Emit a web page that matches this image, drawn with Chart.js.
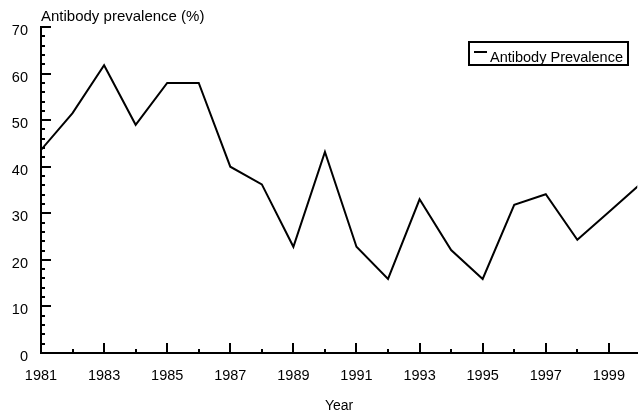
<!DOCTYPE html>
<html>
<head>
<meta charset="utf-8">
<script src="https://cdn.jsdelivr.net/npm/chart.js@4.4.0/dist/chart.umd.min.js"></script>
<style>
  html, body { margin: 0; padding: 0; background: #fff; overflow: hidden; }
  canvas { display: block; }
</style>
</head>
<body>
<canvas id="chart" width="639" height="415"></canvas>
<script>
// --- data ---
const years      = [1981, 1982, 1983, 1984, 1985, 1986, 1987, 1988, 1989, 1990,
                    1991, 1992, 1993, 1994, 1995, 1996, 1997, 1998, 1999, 2000];
const prevalence = [43.6, 51.5, 61.8, 49, 58, 58, 40, 36.2, 22.8, 43.2,
                    22.8, 15.9, 33, 22.1, 15.9, 31.8, 34.1, 24.3, 30.3, 36.3];
const xTickLabels = ['1981', '1983', '1985', '1987', '1989', '1991', '1993', '1995', '1997', '1999'];
const yTickValues = [0, 10, 20, 30, 40, 50, 60, 70];

const seriesName = 'Antibody Prevalence';
const yTitle     = 'Antibody prevalence (%)';
const xTitle     = 'Year';

const FONT = "'Liberation Sans', Arial, sans-serif";

// ticks drawn inward, title top-left, boxed legend top-right
const decorations = {
    id: 'decorations',
    afterDraw(chart) {
        const { ctx, chartArea: area } = chart;
        const xs = chart.scales.x, ys = chart.scales.y;
        ctx.save();
        ctx.strokeStyle = '#000';
        ctx.lineWidth = 2;

        // y ticks: minor every 2, major every 10
        for (let v = yTickValues[0]; v <= yTickValues[yTickValues.length - 1]; v += 2) {
            const py = Math.round(ys.getPixelForValue(v));
            const len = yTickValues.includes(v) ? 10 : 4;
            ctx.beginPath();
            ctx.moveTo(area.left, py);
            ctx.lineTo(area.left + len, py);
            ctx.stroke();
        }
        // x ticks: minor every year, major on labelled years
        years.forEach(yr => {
            if (yr > xs.max) return;
            const px = Math.round(xs.getPixelForValue(yr));
            const len = xTickLabels.includes(String(yr)) ? 10 : 4;
            ctx.beginPath();
            ctx.moveTo(px, area.bottom);
            ctx.lineTo(px, area.bottom - len);
            ctx.stroke();
        });

        // y title, horizontal above the axis
        ctx.fillStyle = '#000';
        ctx.font = '15px ' + FONT;
        ctx.textAlign = 'left';
        ctx.textBaseline = 'alphabetic';
        ctx.fillText(yTitle, area.left, 21);

        // legend
        ctx.strokeRect(469, 42, 159, 23);
        ctx.beginPath();
        ctx.moveTo(474, 52);
        ctx.lineTo(487, 52);
        ctx.stroke();
        ctx.font = '14.5px ' + FONT;
        ctx.fillText(chart.data.datasets[0].label, 490, 62);
        ctx.restore();
    }
};

new Chart(document.getElementById('chart').getContext('2d'), {
    type: 'line',
    data: {
        datasets: [{
            label: seriesName,
            data: years.map((yr, i) => ({ x: yr, y: prevalence[i] })),
            borderColor: '#000',
            borderWidth: 2,
            pointRadius: 0,
            tension: 0,
            fill: false
        }]
    },
    options: {
        responsive: false,
        animation: false,
        layout: { padding: { top: 27, left: 0, right: 0, bottom: 0 } },
        plugins: { legend: { display: false }, tooltip: { enabled: false } },
        scales: {
            x: {
                type: 'linear',
                min: years[0],
                max: 1999.9,
                grid: { display: false, drawTicks: false },
                border: { display: true, color: '#000', width: 2 },
                ticks: {
                    stepSize: 1, autoSkip: false, includeBounds: false, maxRotation: 0,
                    padding: 14, color: '#000', font: { family: FONT, size: 14.5 },
                    callback: v => xTickLabels.includes(String(v)) ? String(v) : ''
                },
                title: {
                    display: true, text: xTitle, color: '#000',
                    font: { family: FONT, size: 14 }, padding: { top: 0, bottom: 0 }
                },
                afterFit: s => { s.height = 62; }
            },
            y: {
                min: yTickValues[0],
                max: yTickValues[yTickValues.length - 1],
                grid: { display: false, drawTicks: false },
                border: { display: true, color: '#000', width: 2 },
                ticks: {
                    stepSize: 10, padding: 13, labelOffset: 4,
                    color: '#000', font: { family: FONT, size: 14.5 }
                },
                afterFit: s => { s.width = 41; }
            }
        }
    },
    plugins: [decorations]
});
</script>
</body>
</html>
